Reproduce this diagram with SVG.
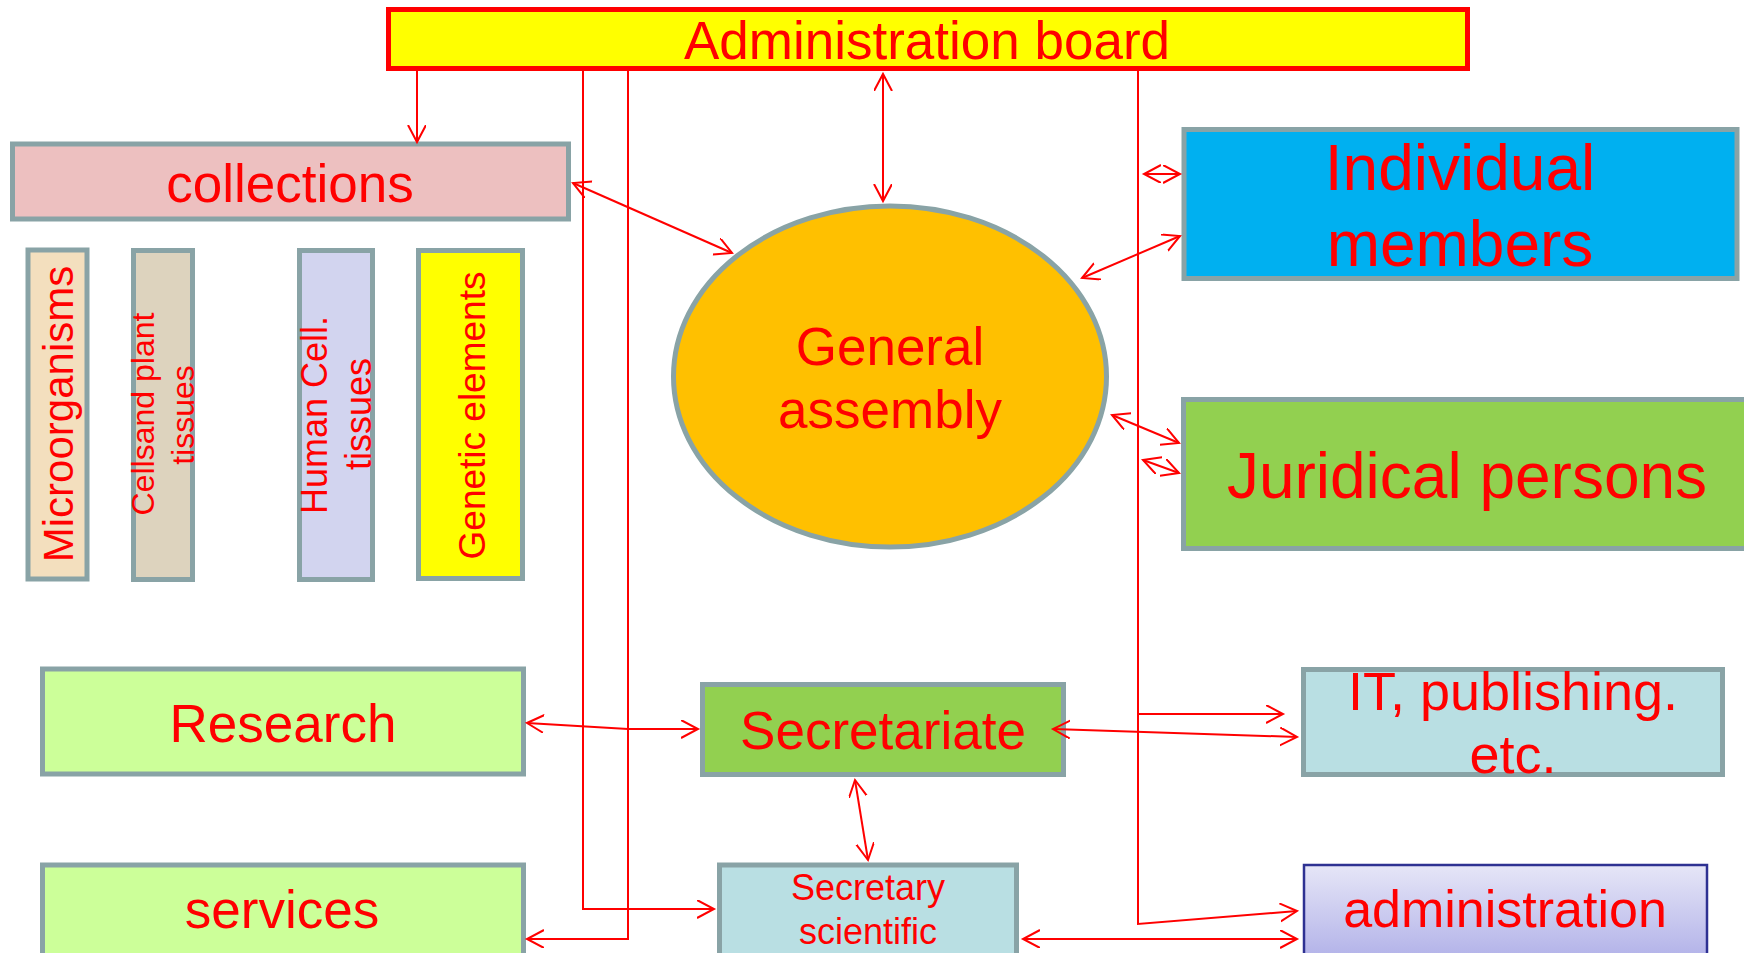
<svg xmlns="http://www.w3.org/2000/svg" width="1744" height="953" viewBox="0 0 1744 953">
<style>
text{font-family:"Liberation Sans",Arial,sans-serif;fill:#FF0000;text-anchor:middle}
.box{stroke:#89A3A6;stroke-width:5}
.c{fill:none;stroke:#FF0000;stroke-width:2}
.b{marker-end:url(#arr)}
.d{marker-start:url(#arr);marker-end:url(#arr)}
</style>
<defs>
<marker id="arr" viewBox="0 0 20 20" markerWidth="20" markerHeight="20" refX="17" refY="9" orient="auto-start-reverse" markerUnits="userSpaceOnUse">
<path d="M0,0 L17,9 L0,18" fill="none" stroke="#FF0000" stroke-width="2"/>
</marker>
<linearGradient id="adm" x1="0" y1="0" x2="0" y2="1">
<stop offset="0" stop-color="#E6E6F7"/>
<stop offset="1" stop-color="#A9A9E6"/>
</linearGradient>
</defs>

<g id="admin-board">
<rect x="388.5" y="9.5" width="1079" height="59" fill="#FFFF00" stroke="#FF0000" stroke-width="5"/>
<text x="927" y="59" font-size="53">Administration board</text>
</g>

<g id="collections">
<rect class="box" x="12.5" y="144" width="556" height="75" fill="#EDC0C0"/>
<text x="290" y="202" font-size="53">collections</text>
</g>

<g id="microorganisms">
<rect class="box" x="28" y="250" width="59" height="329" fill="#F3DFBE"/>
<text transform="translate(73,414) rotate(-90)" font-size="42">Microorganisms</text>
</g>

<g id="cells-plant">
<rect class="box" x="133.5" y="250.5" width="59" height="329" fill="#DDD3BE"/>
<text transform="translate(154,414) rotate(-90)" font-size="32">Cellsand plant</text>
<text transform="translate(194,415) rotate(-90)" font-size="32">tissues</text>
</g>

<g id="human-cell">
<rect class="box" x="299.5" y="250.5" width="73" height="329" fill="#D2D4EF"/>
<text transform="translate(327,415) rotate(-90)" font-size="36">Human Cell.</text>
<text transform="translate(371,414) rotate(-90)" font-size="36">tissues</text>
</g>

<g id="genetic">
<rect class="box" x="418.5" y="250.5" width="104" height="328" fill="#FFFF00"/>
<text transform="translate(485,415.5) rotate(-90)" font-size="37">Genetic elements</text>
</g>

<g id="general-assembly">
<ellipse class="box" cx="890" cy="376.5" rx="216.5" ry="170.5" fill="#FFC000"/>
<text x="890" y="365" font-size="53">General</text>
<text x="890" y="428" font-size="53">assembly</text>
</g>

<g id="individual-members">
<rect class="box" x="1184" y="129.5" width="553" height="149" fill="#00B0F0"/>
<text x="1460" y="190" font-size="64">Individual</text>
<text x="1460" y="266" font-size="64">members</text>
</g>

<g id="juridical-persons">
<rect class="box" x="1183.5" y="399.5" width="570" height="149" fill="#92D050"/>
<text x="1467" y="498" font-size="64">Juridical persons</text>
</g>

<g id="research">
<rect class="box" x="42.5" y="669" width="481" height="105" fill="#CCFF99"/>
<text x="283" y="742" font-size="53">Research</text>
</g>

<g id="services">
<rect class="box" x="42.5" y="865" width="481" height="110" fill="#CCFF99"/>
<text x="282" y="928" font-size="53">services</text>
</g>

<g id="secretariate">
<rect class="box" x="702.5" y="684.5" width="361" height="90" fill="#92D050"/>
<text x="883" y="749" font-size="53">Secretariate</text>
</g>

<g id="it-publishing">
<rect class="box" x="1303.5" y="669.5" width="419" height="105" fill="#B9DFE3"/>
<text x="1513" y="710" font-size="54">IT, publishing.</text>
<text x="1513" y="773" font-size="54">etc.</text>
</g>

<g id="secretary-scientific">
<rect class="box" x="719.5" y="865" width="297" height="110" fill="#B9DFE3"/>
<text x="868" y="900" font-size="36">Secretary</text>
<text x="868" y="944" font-size="36">scientific</text>
</g>

<g id="administration">
<rect x="1304" y="865" width="403" height="110" fill="url(#adm)" stroke="#2E3192" stroke-width="2.5"/>
<text x="1505" y="927" font-size="52">administration</text>
</g>

<g id="connectors">
<line class="c b" x1="417" y1="71" x2="417" y2="142"/>
<line class="c d" x1="883" y1="74" x2="883" y2="201"/>
<line class="c d" x1="573" y1="183" x2="732" y2="253"/>
<line class="c d" x1="1180" y1="236" x2="1082" y2="278"/>
<line class="c d" x1="1144" y1="174" x2="1180" y2="174"/>
<line class="c d" x1="1112" y1="415" x2="1179" y2="443"/>
<line class="c d" x1="1143" y1="460" x2="1179" y2="473"/>
<path class="c b" d="M583,71 V909 H714"/>
<path class="c b" d="M628,71 V939 H527"/>
<path class="c b" d="M1138,71 V924 L1297,911"/>
<path class="c b" d="M1138,714 H1283"/>
<path class="c d" d="M527,723 L628,729 H698"/>
<line class="c d" x1="1053" y1="729" x2="1297" y2="737"/>
<line class="c d" x1="855" y1="780" x2="868" y2="860"/>
<line class="c d" x1="1023" y1="939" x2="1297" y2="939"/>
</g>
</svg>
